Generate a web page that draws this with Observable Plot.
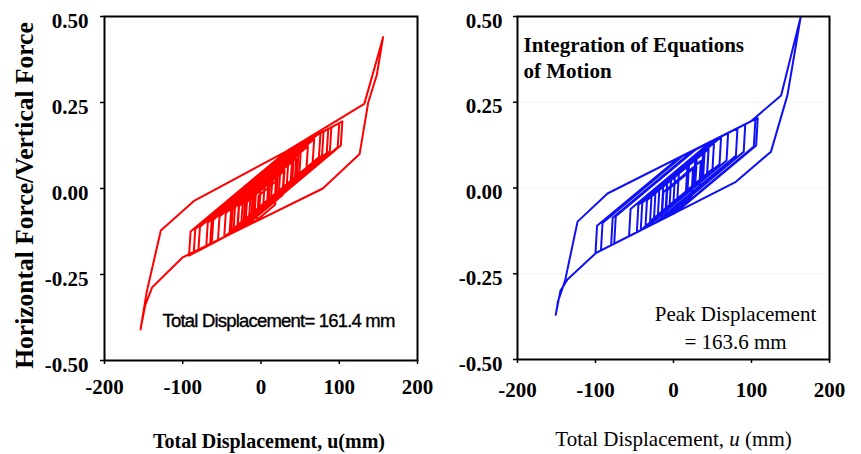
<!DOCTYPE html>
<html><head><meta charset="utf-8">
<script src="https://cdn.jsdelivr.net/npm/d3@7"></script>
<script src="https://cdn.jsdelivr.net/npm/@observablehq/plot@0.6"></script>
<style>
body{margin:0;background:#fff;}
#wrap{position:relative;width:861px;height:454px;overflow:hidden;background:#fff}
#left,#right{position:absolute;top:0}
#left{left:0}
#right{left:430px}
</style></head><body>
<div id="wrap"><div id="left"></div><div id="right"></div></div>
<script>
const xTicks = [-200, -100, 0, 100, 200];
const yTicks = [-0.5, -0.25, 0, 0.25, 0.5];
const gridTicks = [-0.25, 0, 0.25];

// Left panel (red): total displacement (mm) and horizontal/vertical force
const redDisp = [-5,-3,20,18,-5.4,-20,-18,30,28,-19.7,-30,-28,45,43,-30.4,-40,-38,60,58,-39.7,-47,-45,68,66,-48,-63,-61,64.4,80,78,-46.9,-70,-68,56.9,90,88,-36.9,-80,-78,46.9,100,98,-26.9,-86,-84,40.6,104,102,-22.9,-92,-90,34.3,132,140,150,156,148,137,126,79,-100,-139,-148,-154,-146,-128,-85,100,98,-26.9,-65,-63,61.9,86,84,-40.9,-55,-53,71.9,76,74,-40,-38,51,49,-25,-23,35,33,-15,-13,25,23,-8,-6,15,13,-2,0,40,38,-30,-28,30,28,-35,-33,20,18,-20,-18,10,8,-10,-8,5,3,-25,-23,42,40,-38,-36,22,20,-12,-10,48,46,-22,-20,12,10,-30,-28,2];
const redForce = [-0.091,-0.021,0.023,-0.047,-0.092,-0.109,-0.039,0.052,-0.018,-0.109,-0.121,-0.051,0.088,0.018,-0.121,-0.133,-0.063,0.123,0.053,-0.133,-0.141,-0.071,0.144,0.074,-0.143,-0.161,-0.091,0.147,0.166,0.096,-0.141,-0.169,-0.099,0.138,0.178,0.108,-0.129,-0.181,-0.111,0.126,0.19,0.12,-0.117,-0.188,-0.118,0.119,0.195,0.125,-0.113,-0.195,-0.125,0.111,0.246,0.31,0.39,0.44,0.33,0.25,0.10,0.0,-0.20,-0.287,-0.34,-0.41,-0.30,-0.122,-0.035,0.19,0.12,-0.117,-0.163,-0.093,0.144,0.173,0.103,-0.134,-0.151,-0.081,0.156,0.161,0.091,-0.126,-0.056,0.113,0.043,-0.098,-0.028,0.082,0.012,-0.079,-0.009,0.063,-0.007,-0.066,0.004,0.044,-0.026,-0.055,0.015,0.091,0.021,-0.108,-0.038,0.072,0.002,-0.118,-0.048,0.053,-0.017,-0.089,-0.019,0.034,-0.036,-0.070,0.0,0.025,-0.045,-0.098,-0.028,0.096,0.026,-0.122,-0.052,0.058,-0.012,-0.073,-0.003,0.107,0.037,-0.092,-0.022,0.039,-0.031,-0.107,-0.037,0.020];

// Right panel (blue): integration of equations of motion
const blueDisp = [-10,-8,25,23,-9.7,-15,-13,35,33,-15.1,-36,-34,45,43,-36.4,-42,-40,61,59,-42.5,-57,-55,48,82,80,-23,-76,-74,29,105,103,0,-93,-91,12,99,138,150,163,158,146,125,80,-99.6,-136,-145,-151,-148,-139,-123,-84.6,99,108,106,3,-100,-98,7,92,90,-13,-80,-78,25,70,68,-35,-47,-45,52,50,-25,-23,38,36,-10,-8,28,26,0,2,18,16,5,7,40,38,-20,-18,30,28,-30,-28,20,18,-5,-3,45,43,-15,-13,10];
const blueForce = [-0.0865,-0.0065,0.056,-0.024,-0.086,-0.092,-0.012,0.079,-0.001,-0.092,-0.116,-0.036,0.114,0.034,-0.117,-0.123,-0.043,0.149,0.069,-0.124,-0.141,-0.061,0.135,0.174,0.094,-0.101,-0.162,-0.082,0.113,0.201,0.121,-0.075,-0.182,-0.102,0.094,0.194,0.27,0.38,0.498,0.43,0.27,0.106,0.018,-0.19,-0.267,-0.30,-0.37,-0.33,-0.27,-0.098,-0.016,0.194,0.204,0.124,-0.0715,-0.19,-0.11,0.088,0.186,0.106,-0.090,-0.167,-0.087,0.109,0.16,0.08,-0.115,-0.129,-0.049,0.135,0.055,-0.088,-0.008,0.108,0.028,-0.059,0.021,0.089,0.009,-0.040,0.04,0.070,-0.01,-0.031,0.049,0.112,0.032,-0.078,0.002,0.093,0.013,-0.097,-0.017,0.074,-0.006,-0.050,0.030,0.121,0.041,-0.069,0.011,0.055];

const leftXLabel = "Total Displacement, u(mm)";
const rightXLabel = "Total Displacement, u (mm)";
const yLabel = "Horizontal Force/Vertical Force";
const leftNote = "Total Displacement= 161.4 mm";
const rightTitle = "Integration of Equations\nof Motion";
const rightNote = "Peak Displacement\n= 163.6 mm";

const serif = '"Liberation Serif","Times New Roman",serif';
const sans = '"Liberation Sans",Arial,sans-serif';
const fmtX = d => String(d);
const fmtY = d => d.toFixed(2);
const red = redDisp.map((u, i) => ({u, f: redForce[i]}));
const blue = blueDisp.map((u, i) => ({u, f: blueForce[i]}));

const tickLines = {tickSize: 4, tickFormat: () => "", label: null, strokeWidth: 1.5};
const tickFont = {fontFamily: serif, fontSize: 21, fontWeight: "bold", fill: "#000"};

const left = Plot.plot({
  width: 430, height: 454,
  marginLeft: 104, marginRight: 13, marginTop: 16, marginBottom: 94,
  style: {fontFamily: serif, background: "transparent", overflow: "visible", color: "#000"},
  x: {domain: [-200, 200]},
  y: {domain: [-0.5, 0.5]},
  marks: [
    Plot.line(red, {x: "u", y: "f", stroke: "#ff0000", strokeWidth: 2, strokeLinejoin: "round"}),
    Plot.frame({stroke: "#000", strokeWidth: 2}),
    Plot.axisX({...tickLines, ticks: xTicks}),
    Plot.axisY({...tickLines, ticks: yTicks}),
    Plot.text(xTicks, {...tickFont, x: d => d, text: fmtX, frameAnchor: "bottom", dy: 27, lineAnchor: "middle"}),
    Plot.text(yTicks, {...tickFont, y: d => d, text: fmtY, frameAnchor: "left", dx: -16, dy: 4.5, textAnchor: "end", lineAnchor: "middle"}),
    Plot.text([leftXLabel], {frameAnchor: "bottom", dx: 8, dy: 81, lineAnchor: "middle", fontFamily: serif, fontSize: 20, fontWeight: "bold", fill: "#000"}),
    Plot.text([yLabel], {frameAnchor: "left", dx: -80, dy: 7, rotate: -90, textAnchor: "middle", lineAnchor: "middle", fontFamily: serif, fontSize: 25.5, fontWeight: "bold", fill: "#000"}),
    Plot.text([leftNote], {frameAnchor: "bottom-left", dx: 58, dy: -39, textAnchor: "start", lineAnchor: "middle", fontFamily: sans, fontSize: 18.5, fill: "#000"})
  ]
});
document.getElementById("left").append(left);
left.querySelectorAll("text").forEach(el => {
  if (el.textContent === leftNote) {
    el.setAttribute("letter-spacing", "-0.8");
    el.setAttribute("stroke", "#000");
    el.setAttribute("stroke-width", "0.35");
  }
});

const right = Plot.plot({
  width: 431, height: 454,
  marginLeft: 87, marginRight: 32, marginTop: 16, marginBottom: 95,
  style: {fontFamily: serif, background: "transparent", overflow: "visible", color: "#000"},
  x: {domain: [-200, 200]},
  y: {domain: [-0.5, 0.5]},
  marks: [
    Plot.gridY(gridTicks, {stroke: "#999", strokeOpacity: 0.35, strokeDasharray: "1,3"}),
    Plot.line(blue, {x: "u", y: "f", stroke: "#1010f5", strokeWidth: 2, strokeLinejoin: "round"}),
    Plot.frame({stroke: "#000", strokeWidth: 2}),
    Plot.axisX({...tickLines, ticks: xTicks}),
    Plot.axisY({...tickLines, ticks: yTicks}),
    Plot.text(xTicks, {...tickFont, x: d => d, text: fmtX, frameAnchor: "bottom", dy: 31, lineAnchor: "middle"}),
    Plot.text(yTicks, {...tickFont, y: d => d, text: fmtY, frameAnchor: "left", dx: -15, dy: 4.5, textAnchor: "end", lineAnchor: "middle"}),
    Plot.text([rightXLabel], {frameAnchor: "bottom", dx: 0, dy: 80, lineAnchor: "middle", fontFamily: serif, fontSize: 21, fill: "#000"}),
    Plot.text([rightTitle], {frameAnchor: "top-left", dx: 6, dy: 40, textAnchor: "start", lineAnchor: "middle", lineHeight: 1.24, fontFamily: serif, fontSize: 21, fontWeight: "bold", fill: "#000"}),
    Plot.text([rightNote], {frameAnchor: "bottom-right", dx: -94, dy: -33, textAnchor: "middle", lineAnchor: "middle", lineHeight: 1.33, fontFamily: serif, fontSize: 21, fill: "#000"})
  ]
});
document.getElementById("right").append(right);

// italic "u" in the right x-axis label
right.querySelectorAll("text").forEach(el => {
  if (el.textContent === rightXLabel) {
    const parts = [["Total Displacement, ", "normal"], ["u", "italic"], [" (mm)", "normal"]];
    el.textContent = "";
    parts.forEach(([t, s]) => {
      const ts = document.createElementNS("http://www.w3.org/2000/svg", "tspan");
      ts.textContent = t;
      ts.setAttribute("font-style", s);
      el.appendChild(ts);
    });
  }
});
</script>
</body></html>
